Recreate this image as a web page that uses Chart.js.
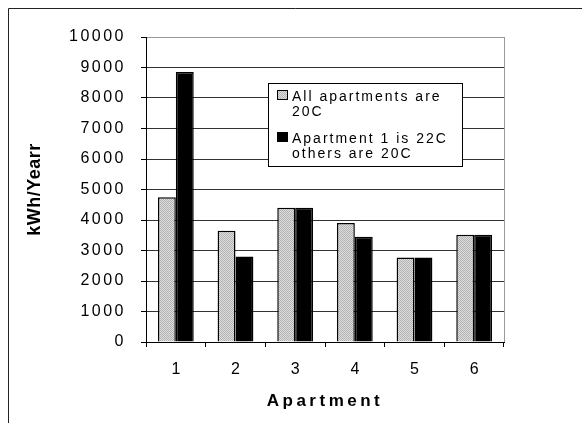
<!DOCTYPE html>
<html>
<head>
<meta charset="utf-8">
<script src="https://cdn.jsdelivr.net/npm/chart.js@4/dist/chart.umd.min.js"></script>
<style>
  html, body { margin: 0; padding: 0; background: #fff; }
  canvas { display: block; }
</style>
</head>
<body>
<canvas id="chart" width="582" height="423"></canvas>
<script>
// Annual heating energy per apartment (kWh/year)
const apartments = ['1', '2', '3', '4', '5', '6'];
const allAt20C = [4750, 3650, 4400, 3900, 2770, 3520];
const apt1At22C = [8850, 2800, 4400, 3450, 2770, 3520];
const seriesNames = ['All apartments are 20C', 'Apartment 1 is 22C others are 20C'];
const legendLines = [['All apartments are', '20C'], ['Apartment 1 is 22C', 'others are 20C']];
const yTicks = [0, 1000, 2000, 3000, 4000, 5000, 6000, 7000, 8000, 9000, 10000];

const FONT = '"Liberation Sans", Arial, sans-serif';

// Fine dotted grey fill for the first series
function dottedGrey() {
  const c = document.createElement('canvas');
  c.width = 2; c.height = 2;
  const g = c.getContext('2d');
  g.fillStyle = '#dedede'; g.fillRect(0, 0, 2, 2);
  g.fillStyle = '#b2b2b2'; g.fillRect(0, 0, 1, 1); g.fillRect(1, 1, 1, 1);
  return g.createPattern(c, 'repeat');
}
const greyFill = dottedGrey();

// Letter spacing per text element (the canvas resets it on resize, so apply while drawing)
const spacingPlugin = {
  id: 'spacing',
  beforeDraw(chart) {
    const ctx = chart.ctx;
    const wrap = (scale, fn, sp) => {
      const key = '_wrapped_' + fn;
      if (scale[key]) return;
      const orig = scale[fn].bind(scale);
      scale[fn] = function (...args) {
        const prev = ctx.letterSpacing;
        ctx.letterSpacing = sp;
        orig(...args);
        ctx.letterSpacing = prev;
      };
      scale[key] = true;
    };
    wrap(chart.scales.y, 'drawLabels', '2.5px');
    wrap(chart.scales.y, 'drawTitle', '0.5px');
    wrap(chart.scales.x, 'drawLabels', '0px');
    wrap(chart.scales.x, 'drawTitle', '3.5px');
  }
};

// Outer frame, plot border and the boxed two-line legend
const framePlugin = {
  id: 'frame',
  beforeDraw(chart) {
    const ctx = chart.ctx;
    ctx.save();
    ctx.strokeStyle = '#222';
    ctx.lineWidth = 1;
    ctx.beginPath();
    ctx.moveTo(8.5, chart.height);
    ctx.lineTo(8.5, 8.5);
    ctx.lineTo(chart.width, 8.5);
    ctx.stroke();
    ctx.restore();
  },
  afterDatasetsDraw(chart) {
    const ctx = chart.ctx;
    const a = chart.chartArea;
    ctx.save();
    ctx.strokeStyle = '#9a9a9a';
    ctx.lineWidth = 1;
    ctx.beginPath();
    ctx.moveTo(Math.round(a.right) + 0.5, a.top);
    ctx.lineTo(Math.round(a.right) + 0.5, a.bottom);
    ctx.stroke();
    ctx.restore();
  },
  afterDraw(chart) {
    const ctx = chart.ctx;
    ctx.save();
    const box = { x: 268, y: 83, w: 194, h: 83 };
    ctx.fillStyle = '#fff';
    ctx.fillRect(box.x, box.y, box.w, box.h);
    ctx.strokeStyle = '#000';
    ctx.lineWidth = 1;
    ctx.strokeRect(box.x + 0.5, box.y + 0.5, box.w, box.h);
    ctx.font = '14px ' + FONT;
    ctx.letterSpacing = '2px';
    ctx.textBaseline = 'middle';
    ctx.textAlign = 'left';
    const groupTop = [97, 139];
    chart.data.datasets.forEach((ds, i) => {
      const y0 = groupTop[i];
      ctx.fillStyle = ds.backgroundColor;
      ctx.fillRect(277, y0 - 7, 11, 10);
      ctx.strokeStyle = '#000';
      ctx.strokeRect(277.5, y0 - 6.5, 10, 9);
      ctx.fillStyle = '#000';
      legendLines[i].forEach((line, j) => {
        ctx.fillText(line, 292, y0 + j * 15.5);
      });
    });
    ctx.restore();
  }
};

new Chart(document.getElementById('chart'), {
  type: 'bar',
  data: {
    labels: apartments,
    datasets: [
      {
        label: seriesNames[0],
        data: allAt20C,
        backgroundColor: greyFill,
        borderColor: '#000',
        borderWidth: 1.5,
        borderSkipped: 'bottom'
      },
      {
        label: seriesNames[1],
        data: apt1At22C,
        backgroundColor: '#000',
        borderColor: '#000',
        borderWidth: 1.5,
        borderSkipped: 'bottom'
      }
    ]
  },
  options: {
    responsive: false,
    animation: false,
    devicePixelRatio: 1,
    layout: { padding: { top: 37, right: 78, left: 0, bottom: 0 } },
    plugins: {
      legend: { display: false },
      tooltip: { enabled: false }
    },
    datasets: {
      bar: { categoryPercentage: 0.6, barPercentage: 1.0 }
    },
    scales: {
      x: {
        offset: true,
        grid: {
          offset: true,
          drawOnChartArea: false,
          drawTicks: true,
          tickLength: 5,
          color: '#000'
        },
        border: { display: true, color: '#000', width: 1 },
        ticks: {
          color: '#000',
          padding: 13,
          font: { family: FONT, size: 16 }
        },
        title: {
          display: true,
          text: 'Apartment',
          color: '#000',
          font: { family: FONT, size: 17, weight: 'bold' },
          padding: { top: 0, bottom: 11 }
        },
        afterFit(scale) { scale.height = 81; }
      },
      y: {
        min: 0,
        max: 10000,
        afterBuildTicks(scale) { scale.ticks = yTicks.map(v => ({ value: v })); },
        grid: {
          drawTicks: true,
          tickLength: 5,
          tickColor: '#000',
          color: (c) => (c.tick && c.tick.value === 10000 ? '#9a9a9a' : (c.tick && c.tick.value === 0 ? '#000' : '#333')),
          lineWidth: 1
        },
        border: { display: true, color: '#000', width: 1 },
        ticks: {
          color: '#000',
          padding: 15,
          font: { family: FONT, size: 16 },
          callback: (v) => String(v)
        },
        title: {
          display: true,
          text: 'kWh/Yearr',
          color: '#000',
          font: { family: FONT, size: 18, weight: 'bold' },
          padding: { top: 24, bottom: 0 }
        },
        afterFit(scale) { scale.width = 146; }
      }
    }
  },
  plugins: [spacingPlugin, framePlugin]
});
</script>
</body>
</html>
